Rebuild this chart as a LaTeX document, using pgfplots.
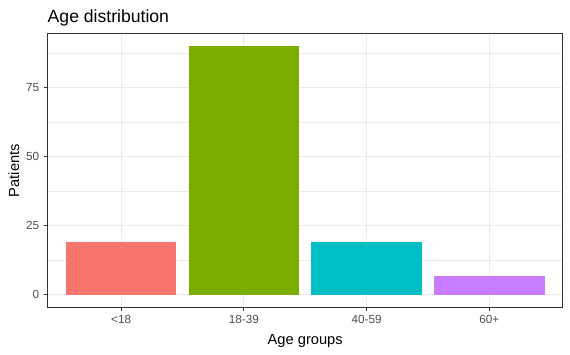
\documentclass[border=0pt]{standalone}
\usepackage{pgfplots}
\pgfplotsset{compat=1.18}
\usepackage{fontspec}
\setmainfont{Liberation Sans}
\definecolor{c1}{HTML}{F8766D}
\definecolor{c2}{HTML}{7CAE00}
\definecolor{c3}{HTML}{00BFC4}
\definecolor{c4}{HTML}{C77CFF}
\definecolor{g20}{HTML}{333333}
\definecolor{g30}{HTML}{4D4D4D}
\definecolor{g92}{HTML}{EBEBEB}
\begin{document}
\begin{tikzpicture}[x=1pt,y=1pt]
\useasboundingbox (0,0) rectangle (427.5,265.5);
\begin{axis}[
  at={(35.6pt,35.0pt)}, anchor=south west,
  scale only axis, width=386.6pt, height=205.2pt,
  xmin=0.4, xmax=4.6, ymin=-4.5, ymax=94.5,
  xtick={1,2,3,4}, xticklabels={<18,18-39,40-59,60+},
  ytick={0,25,50,75},
  minor ytick={12.5,37.5,62.5,87.5},
  minor tick length=0pt,
  major tick length=2.75pt,
  tick align=outside,
  xtick pos=bottom, ytick pos=left,
  tick style={g20, line width=0.8pt},
  xmajorgrids, ymajorgrids, yminorgrids,
  major grid style={g92, line width=0.8pt},
  minor grid style={g92, line width=0.4pt},
  axis line style={g20, line width=0.8pt},
  ticklabel style={font=\fontsize{8.8}{10}\selectfont, text=g30},
  /pgf/number format/assume math mode=true,
  clip=false,
]
\addplot[ybar, bar shift=0pt, bar width=0.9, fill=c1, draw=none] coordinates {(1,19)};
\addplot[ybar, bar shift=0pt, bar width=0.9, fill=c2, draw=none] coordinates {(2,90)};
\addplot[ybar, bar shift=0pt, bar width=0.9, fill=c3, draw=none] coordinates {(3,19)};
\addplot[ybar, bar shift=0pt, bar width=0.9, fill=c4, draw=none] coordinates {(4,7)};
\draw[g20, line width=0.8pt] (rel axis cs:0,0) rectangle (rel axis cs:1,1);
\end{axis}
\node[anchor=base west, inner sep=0pt, font=\fontsize{13.2}{15}\selectfont] at (35.6,248.6) {Age distribution};
\node[anchor=base, inner sep=0pt, font=\fontsize{11}{13}\selectfont] at (228.9,7.5) {Age groups};
\node[anchor=base, rotate=90, inner sep=0pt, font=\fontsize{11}{13}\selectfont] at (14.25,137.6) {Patients};
\end{tikzpicture}
\end{document}
